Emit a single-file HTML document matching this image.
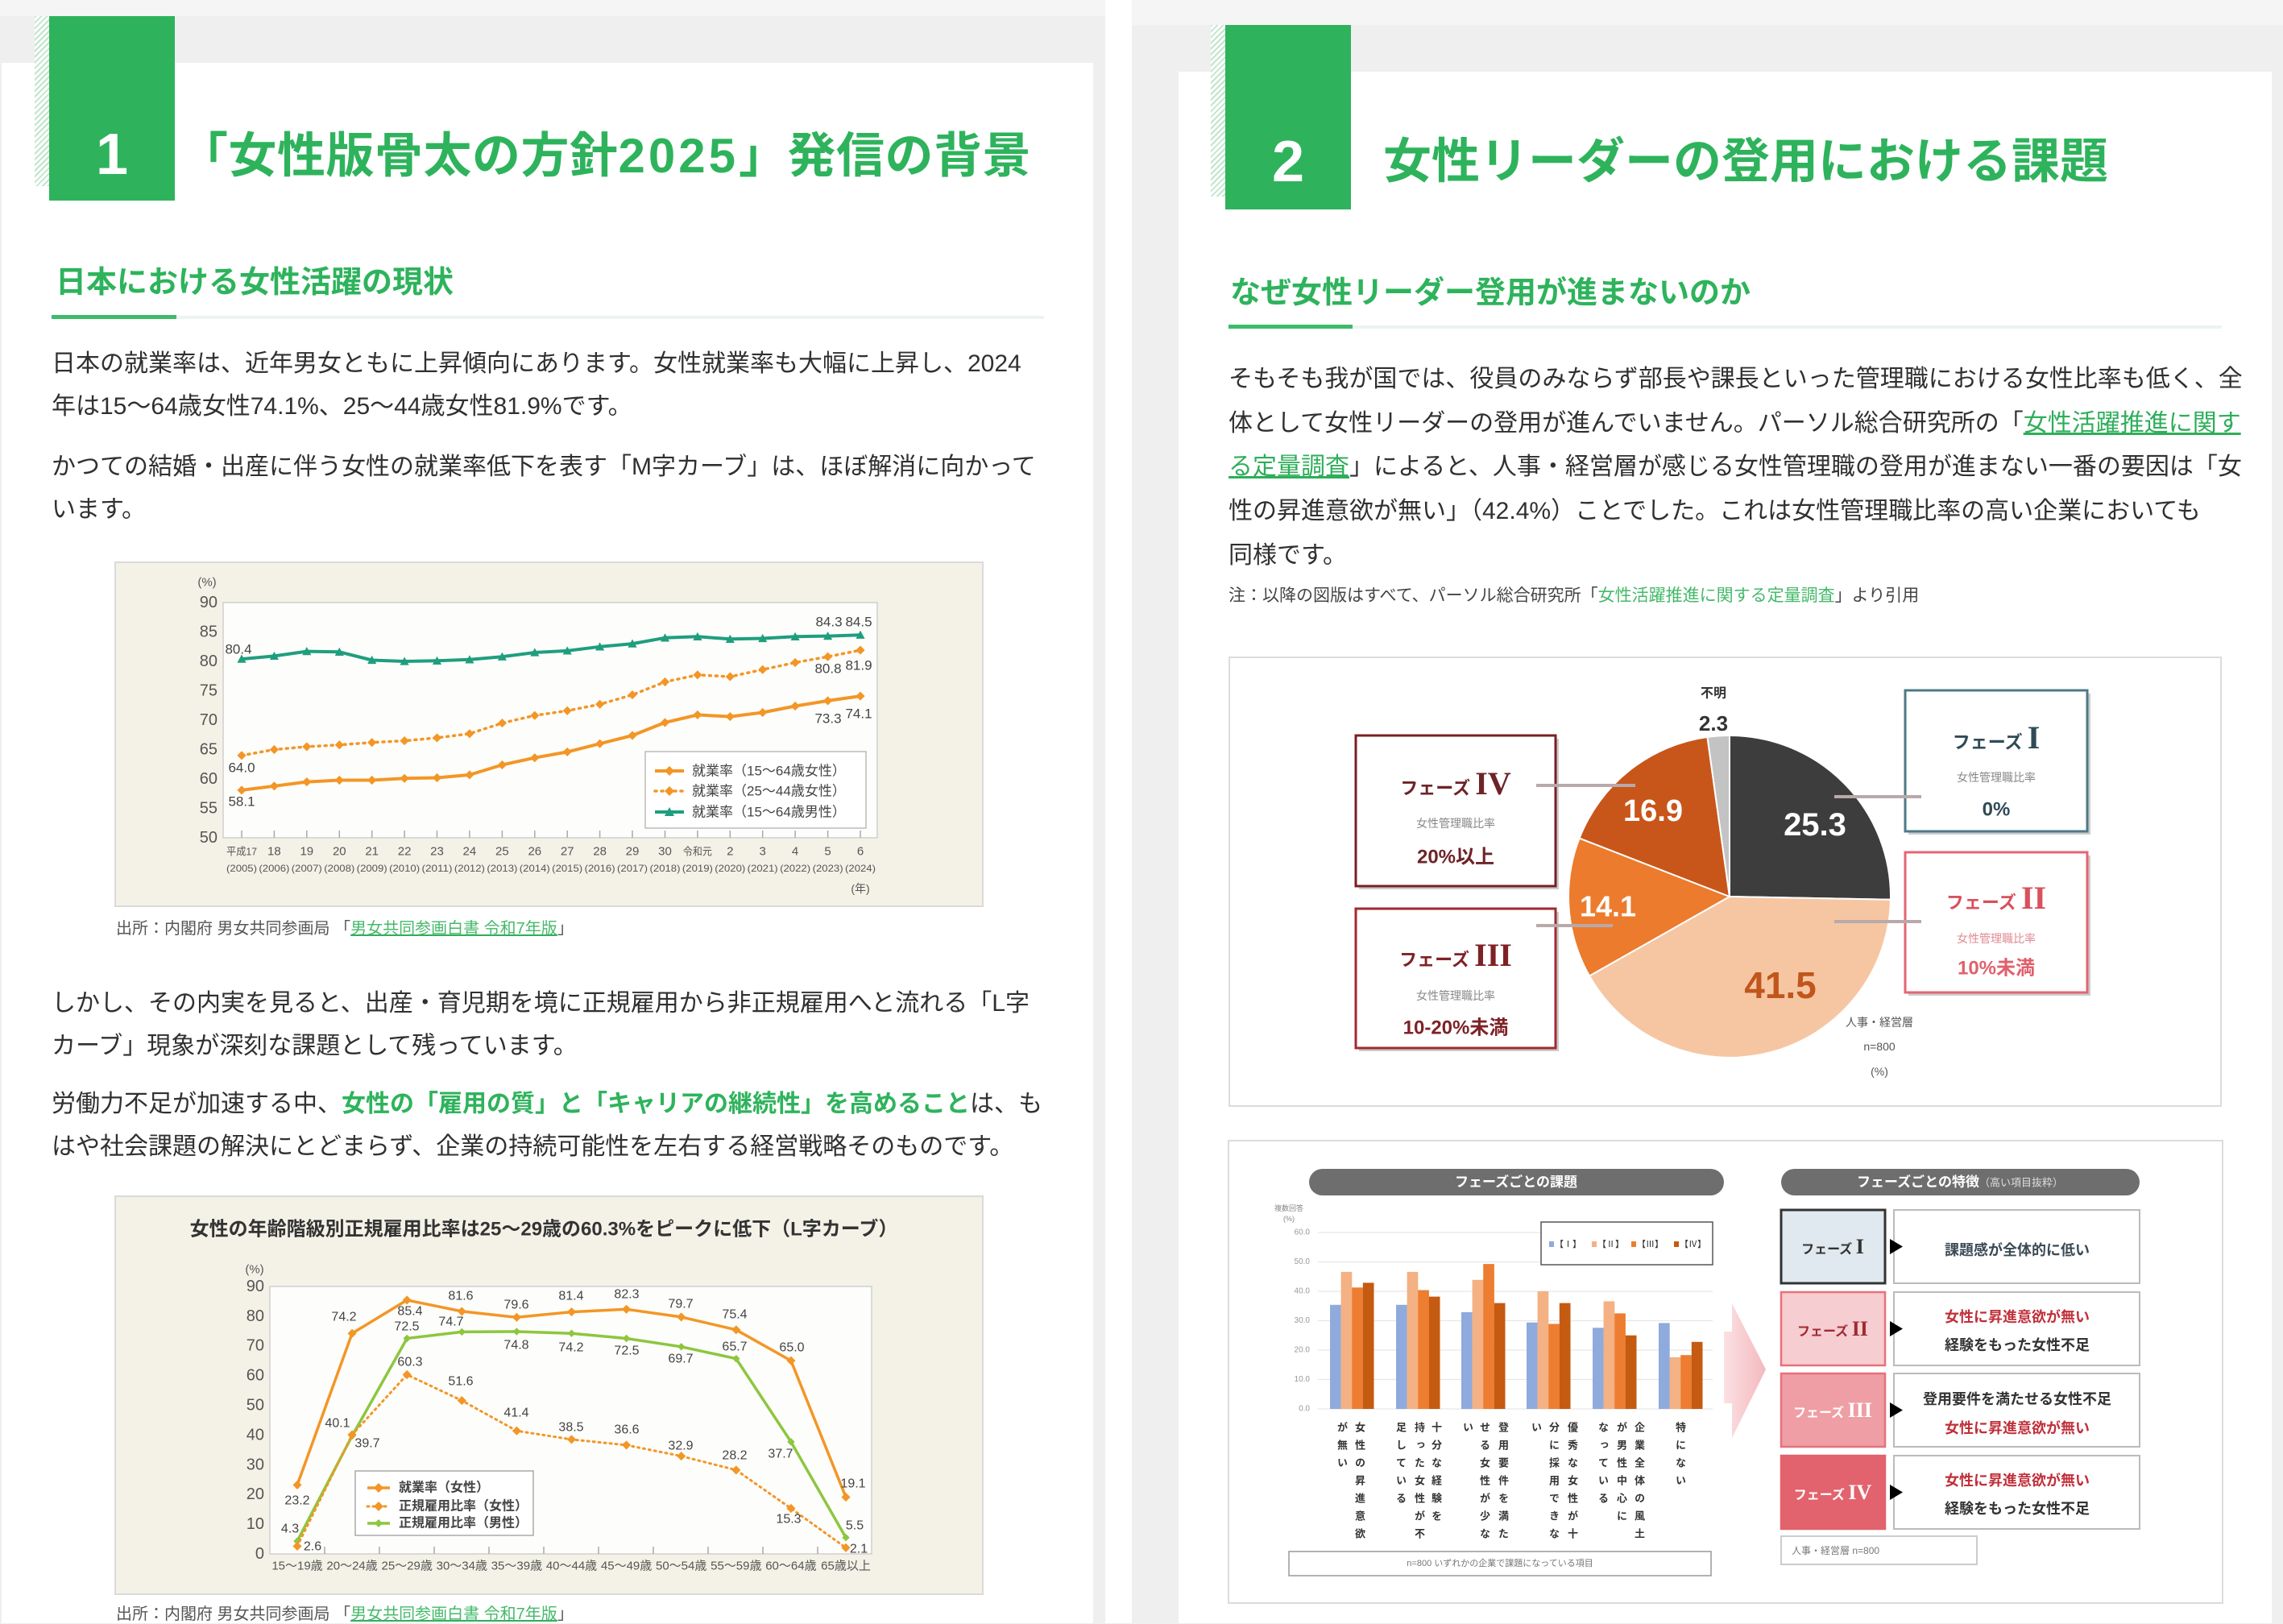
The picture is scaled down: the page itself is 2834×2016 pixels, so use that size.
<!DOCTYPE html>
<html lang="ja"><head><meta charset="utf-8">
<style>
*{margin:0;padding:0;box-sizing:border-box}
body{width:2834px;height:2015px;overflow:hidden;background:#efefef;position:relative;font-family:"Liberation Sans","Noto Sans CJK JP",sans-serif;color:#303030}
.a{position:absolute}
.p{position:absolute;font-size:30px;line-height:53px;white-space:nowrap;color:#303030}
.g{color:#2eb35c}
.gl{color:#2eae5a;text-decoration:underline;text-decoration-color:#2eae5a}
.hatch{background:repeating-linear-gradient(135deg,#bfe5cb 0 2px,#ffffff 2px 5px)}
.vt{position:absolute;writing-mode:vertical-rl;font-size:13px;line-height:22px;letter-spacing:9px;font-weight:bold;color:#333;white-space:nowrap;width:22px;top:1765px}
svg text{font-family:"Liberation Sans","Noto Sans CJK JP",sans-serif}
</style></head><body>
<!-- backgrounds -->
<div class="a" style="left:0;top:0;width:1372px;height:20px;background:#f5f5f5"></div>
<div class="a" style="left:1405px;top:0;width:1429px;height:31px;background:#f5f5f5"></div>
<div class="a" style="left:1372px;top:0;width:33px;height:2015px;background:#fff"></div>
<div class="a" style="left:2px;top:78px;width:1355px;height:1937px;background:#fff"></div>
<div class="a" style="left:1463px;top:89px;width:1357px;height:1926px;background:#fff"></div>

<!-- left header -->
<div class="a hatch" style="left:43px;top:20px;width:18px;height:211px"></div>
<div class="a" style="left:61px;top:20px;width:156px;height:229px;background:#2eb35c"></div>
<div class="a" style="left:61px;top:156px;width:156px;text-align:center;font-size:72px;line-height:72px;font-weight:bold;color:#fff">1</div>
<div class="a" style="left:223px;top:164px;font-size:60px;line-height:60px;font-weight:bold;color:#2eb35c;white-space:nowrap;letter-spacing:0.5px">「女性版骨太の方針<span style="letter-spacing:4px">2025</span>」発信の背景</div>
<div class="a" style="left:69px;top:332px;font-size:38px;line-height:38px;font-weight:bold;color:#2eb35c;white-space:nowrap">日本における女性活躍の現状</div>
<div class="a" style="left:64px;top:391px;width:155px;height:5px;background:#3dbb6a"></div>
<div class="a" style="left:219px;top:392px;width:1077px;height:4px;background:#edf4f0"></div>

<div class="p" style="left:64px;top:425px">日本の就業率は、近年男女ともに上昇傾向にあります。女性就業率も大幅に上昇し、2024<br>年は15～64歳女性74.1%、25～44歳女性81.9%です。</div>
<div class="p" style="left:64px;top:553px">かつての結婚・出産に伴う女性の就業率低下を表す「M字カーブ」は、ほぼ解消に向かって<br>います。</div>
<div class="a" style="left:144px;top:1141px;font-size:20px;line-height:24px;white-space:nowrap;color:#555">出所：内閣府 男女共同参画局 「<span class="gl" style="color:#45b96a">男女共同参画白書 令和7年版</span>」</div>
<div class="p" style="left:64px;top:1219px">しかし、その内実を見ると、出産・育児期を境に正規雇用から非正規雇用へと流れる「L字<br>カーブ」現象が深刻な課題として残っています。</div>
<div class="p" style="left:64px;top:1344px">労働力不足が加速する中、<b class="g">女性の「雇用の質」と「キャリアの継続性」を高めること</b>は、も<br>はや社会課題の解決にとどまらず、企業の持続可能性を左右する経営戦略そのものです。</div>
<div class="a" style="left:144px;top:1992px;font-size:20px;line-height:24px;white-space:nowrap;color:#555">出所：内閣府 男女共同参画局 「<span class="gl" style="color:#45b96a">男女共同参画白書 令和7年版</span>」</div>

<!-- right header -->
<div class="a hatch" style="left:1503px;top:31px;width:18px;height:213px"></div>
<div class="a" style="left:1521px;top:31px;width:156px;height:229px;background:#2eb35c"></div>
<div class="a" style="left:1521px;top:165px;width:156px;text-align:center;font-size:72px;line-height:72px;font-weight:bold;color:#fff">2</div>
<div class="a" style="left:1717px;top:171px;font-size:60px;line-height:60px;font-weight:bold;color:#2eb35c;white-space:nowrap">女性リーダーの登用における課題</div>
<div class="a" style="left:1527px;top:345px;font-size:38px;line-height:38px;font-weight:bold;color:#2eb35c;white-space:nowrap">なぜ女性リーダー登用が進まないのか</div>
<div class="a" style="left:1525px;top:403px;width:154px;height:5px;background:#3dbb6a"></div>
<div class="a" style="left:1679px;top:404px;width:1079px;height:4px;background:#edf4f0"></div>
<div class="p" style="left:1525px;top:444px;line-height:54.7px">そもそも我が国では、役員のみならず部長や課長といった管理職における女性比率も低く、全<br>体として女性リーダーの登用が進んでいません。パーソル総合研究所の「<span class="gl">女性活躍推進に関す</span><br><span class="gl">る定量調査</span>」によると、人事・経営層が感じる女性管理職の登用が進まない一番の要因は「女<br>性の昇進意欲が無い」（42.4%）ことでした。これは女性管理職比率の高い企業においても<br>同様です。</div>
<div class="a" style="left:1525px;top:728px;font-size:21px;line-height:24px;white-space:nowrap;color:#444">注：以降の図版はすべて、パーソル総合研究所「<span style="color:#45b96a">女性活躍推進に関する定量調査</span>」より引用</div>

<svg class="a" style="left:0;top:0" width="2834" height="2015" viewBox="0 0 2834 2015">
<defs>
<marker id="dO" viewBox="-7 -7 14 14" markerWidth="13" markerHeight="13" markerUnits="userSpaceOnUse"><path d="M0,-6L6,0L0,6L-6,0Z" fill="#f39626"/></marker>
<marker id="tG" viewBox="-7 -7 14 14" markerWidth="13" markerHeight="13" markerUnits="userSpaceOnUse"><path d="M0,-6L6,5L-6,5Z" fill="#1f9e7e"/></marker>
<marker id="dL" viewBox="-7 -7 14 14" markerWidth="11" markerHeight="11" markerUnits="userSpaceOnUse"><path d="M0,-6L6,0L0,6L-6,0Z" fill="#8dc63f"/></marker>
</defs>

<!-- ===== Chart 1 ===== -->
<rect x="143" y="698" width="1077" height="427" fill="#f4f2e7" stroke="#dadada" stroke-width="2"/>
<rect x="277" y="748" width="812" height="292" fill="#fdfdfb" stroke="#cfcfcf" stroke-width="1.5"/>
<g font-size="20" fill="#555" text-anchor="end" dominant-baseline="central">
<text x="270" y="748">90</text><text x="270" y="784.5">85</text><text x="270" y="821">80</text><text x="270" y="857.5">75</text><text x="270" y="894">70</text><text x="270" y="930.5">65</text><text x="270" y="967">60</text><text x="270" y="1003.5">55</text><text x="270" y="1040">50</text>
</g>
<text x="257" y="723" font-size="15" fill="#555" text-anchor="middle" dominant-baseline="central">(%)</text>
<g stroke="#aaa" stroke-width="1.5">
<path d="M300,1031V1040M340.4,1031V1040M380.8,1031V1040M421.3,1031V1040M461.7,1031V1040M502.1,1031V1040M542.5,1031V1040M582.9,1031V1040M623.4,1031V1040M663.8,1031V1040M704.2,1031V1040M744.6,1031V1040M785,1031V1040M825.5,1031V1040M865.9,1031V1040M906.3,1031V1040M946.7,1031V1040M987.1,1031V1040M1027.6,1031V1040M1068,1031V1040"/>
</g>
<g font-size="15" fill="#555" text-anchor="middle" dominant-baseline="central">
<text x="300" y="1057" font-size="13" textLength="38" lengthAdjust="spacingAndGlyphs">平成17</text><text x="340.4" y="1057">18</text><text x="380.8" y="1057">19</text><text x="421.3" y="1057">20</text><text x="461.7" y="1057">21</text><text x="502.1" y="1057">22</text><text x="542.5" y="1057">23</text><text x="582.9" y="1057">24</text><text x="623.4" y="1057">25</text><text x="663.8" y="1057">26</text><text x="704.2" y="1057">27</text><text x="744.6" y="1057">28</text><text x="785" y="1057">29</text><text x="825.5" y="1057">30</text><text x="865.9" y="1057" font-size="13" textLength="36" lengthAdjust="spacingAndGlyphs">令和元</text><text x="906.3" y="1057">2</text><text x="946.7" y="1057">3</text><text x="987.1" y="1057">4</text><text x="1027.6" y="1057">5</text><text x="1068" y="1057">6</text>
</g>
<g font-size="12" fill="#555" text-anchor="middle" dominant-baseline="central">
<text x="300" y="1078" textLength="38" lengthAdjust="spacingAndGlyphs">(2005)</text><text x="340.4" y="1078" textLength="38" lengthAdjust="spacingAndGlyphs">(2006)</text><text x="380.8" y="1078" textLength="38" lengthAdjust="spacingAndGlyphs">(2007)</text><text x="421.3" y="1078" textLength="38" lengthAdjust="spacingAndGlyphs">(2008)</text><text x="461.7" y="1078" textLength="38" lengthAdjust="spacingAndGlyphs">(2009)</text><text x="502.1" y="1078" textLength="38" lengthAdjust="spacingAndGlyphs">(2010)</text><text x="542.5" y="1078" textLength="38" lengthAdjust="spacingAndGlyphs">(2011)</text><text x="582.9" y="1078" textLength="38" lengthAdjust="spacingAndGlyphs">(2012)</text><text x="623.4" y="1078" textLength="38" lengthAdjust="spacingAndGlyphs">(2013)</text><text x="663.8" y="1078" textLength="38" lengthAdjust="spacingAndGlyphs">(2014)</text><text x="704.2" y="1078" textLength="38" lengthAdjust="spacingAndGlyphs">(2015)</text><text x="744.6" y="1078" textLength="38" lengthAdjust="spacingAndGlyphs">(2016)</text><text x="785" y="1078" textLength="38" lengthAdjust="spacingAndGlyphs">(2017)</text><text x="825.5" y="1078" textLength="38" lengthAdjust="spacingAndGlyphs">(2018)</text><text x="865.9" y="1078" textLength="38" lengthAdjust="spacingAndGlyphs">(2019)</text><text x="906.3" y="1078" textLength="38" lengthAdjust="spacingAndGlyphs">(2020)</text><text x="946.7" y="1078" textLength="38" lengthAdjust="spacingAndGlyphs">(2021)</text><text x="987.1" y="1078" textLength="38" lengthAdjust="spacingAndGlyphs">(2022)</text><text x="1027.6" y="1078" textLength="38" lengthAdjust="spacingAndGlyphs">(2023)</text><text x="1068" y="1078" textLength="38" lengthAdjust="spacingAndGlyphs">(2024)</text>
<text x="1068" y="1103" font-size="14">(年)</text>
</g>
<polyline fill="none" stroke="#1f9e7e" stroke-width="4" stroke-linejoin="round" marker-start="url(#tG)" marker-mid="url(#tG)" marker-end="url(#tG)" points="300,818.1 340.4,814.4 380.8,808.6 421.3,809.3 461.7,819.5 502.1,821 542.5,820.3 582.9,818.8 623.4,815.2 663.8,810 704.2,807.9 744.6,802.8 785,799.1 825.5,791.8 865.9,790.3 906.3,793.3 946.7,792.5 987.1,790.3 1027.6,789.6 1068,788.2"/>
<polyline fill="none" stroke="#f39626" stroke-width="4" stroke-linejoin="round" marker-start="url(#dO)" marker-mid="url(#dO)" marker-end="url(#dO)" points="300,980.9 340.4,975.8 380.8,970.6 421.3,968.5 461.7,968.5 502.1,966.3 542.5,965.5 582.9,961.9 623.4,949.5 663.8,940.7 704.2,933.4 744.6,923.2 785,913 825.5,896.9 865.9,887.4 906.3,889.6 946.7,884.5 987.1,876.5 1027.6,869.9 1068,864.1"/>
<polyline fill="none" stroke="#f39626" stroke-width="3.5" stroke-dasharray="2 6" stroke-linecap="round" marker-start="url(#dO)" marker-mid="url(#dO)" marker-end="url(#dO)" points="300,937.8 340.4,930.5 380.8,926.9 421.3,924.7 461.7,921.7 502.1,919.6 542.5,915.9 582.9,910.8 623.4,897.6 663.8,888.2 704.2,882.3 744.6,874.3 785,862.6 825.5,846.5 865.9,837.8 906.3,840 946.7,831.2 987.1,822.5 1027.6,815.2 1068,807.1"/>
<g font-size="17" fill="#444" text-anchor="middle" dominant-baseline="central">
<text x="296" y="806">80.4</text><text x="300" y="953">64.0</text><text x="300" y="995">58.1</text>
<text x="1029" y="772">84.3</text><text x="1066" y="772">84.5</text>
<text x="1028" y="830">80.8</text><text x="1066" y="826">81.9</text>
<text x="1028" y="892">73.3</text><text x="1066" y="886">74.1</text>
</g>
<rect x="801" y="933" width="274" height="95" fill="#fff" stroke="#bbb" stroke-width="1.5"/>
<line x1="813" y1="957" x2="849" y2="957" stroke="#f39626" stroke-width="4"/><path d="M831,951L837,957L831,963L825,957Z" fill="#f39626"/>
<line x1="813" y1="982" x2="849" y2="982" stroke="#f39626" stroke-width="3.5" stroke-dasharray="2 6" stroke-linecap="round"/><path d="M831,976L837,982L831,988L825,982Z" fill="#f39626"/>
<line x1="813" y1="1008" x2="849" y2="1008" stroke="#1f9e7e" stroke-width="4"/><path d="M831,1002L837,1013L825,1013Z" fill="#1f9e7e"/>
<g font-size="17" fill="#444" dominant-baseline="central">
<text x="859" y="957">就業率（15～64歳女性）</text><text x="859" y="982">就業率（25～44歳女性）</text><text x="859" y="1008">就業率（15～64歳男性）</text>
</g>

<!-- ===== Chart 2 (L-curve) ===== -->
<rect x="143" y="1485" width="1077" height="494" fill="#f4f2e7" stroke="#dadada" stroke-width="2"/>
<text x="675" y="1526" font-size="24" font-weight="bold" fill="#333" text-anchor="middle" dominant-baseline="central">女性の年齢階級別正規雇用比率は25～29歳の60.3%をピークに低下（L字カーブ）</text>
<rect x="335" y="1597" width="747" height="332" fill="#fdfdfb" stroke="#cfcfcf" stroke-width="1.5"/>
<g font-size="20" fill="#555" text-anchor="end" dominant-baseline="central">
<text x="328" y="1929">0</text><text x="328" y="1892.1">10</text><text x="328" y="1855.2">20</text><text x="328" y="1818.3">30</text><text x="328" y="1781.4">40</text><text x="328" y="1744.5">50</text><text x="328" y="1707.6">60</text><text x="328" y="1670.7">70</text><text x="328" y="1633.8">80</text><text x="328" y="1596.9">90</text>
</g>
<text x="316" y="1576" font-size="15" fill="#555" text-anchor="middle" dominant-baseline="central">(%)</text>
<path d="M403,1920V1929M471,1920V1929M539,1920V1929M607,1920V1929M675,1920V1929M743,1920V1929M811,1920V1929M879,1920V1929M947,1920V1929M1015,1920V1929" stroke="#aaa" stroke-width="1.5"/>
<g font-size="15" fill="#555" text-anchor="middle" dominant-baseline="central">
<text x="369" y="1944">15～19歳</text><text x="437.1" y="1944">20～24歳</text><text x="505.2" y="1944">25～29歳</text><text x="573.3" y="1944">30～34歳</text><text x="641.4" y="1944">35～39歳</text><text x="709.5" y="1944">40～44歳</text><text x="777.6" y="1944">45～49歳</text><text x="845.7" y="1944">50～54歳</text><text x="913.8" y="1944">55～59歳</text><text x="981.9" y="1944">60～64歳</text><text x="1050" y="1944">65歳以上</text>
</g>
<polyline fill="none" stroke="#8dc63f" stroke-width="3.5" stroke-linejoin="round" marker-start="url(#dL)" marker-mid="url(#dL)" marker-end="url(#dL)" points="369,1913.1 437.1,1782.5 505.2,1661.5 573.3,1653.4 641.4,1653 709.5,1655.2 777.6,1661.5 845.7,1671.8 913.8,1686.6 981.9,1789.9 1050,1908.7"/>
<polyline fill="none" stroke="#f39626" stroke-width="3.5" stroke-linejoin="round" marker-start="url(#dO)" marker-mid="url(#dO)" marker-end="url(#dO)" points="369,1843.4 437.1,1655.2 505.2,1613.9 573.3,1627.9 641.4,1635.3 709.5,1628.6 777.6,1625.3 845.7,1634.9 913.8,1650.8 981.9,1689.1 1050,1858.5"/>
<polyline fill="none" stroke="#f39626" stroke-width="3" stroke-dasharray="2 5" stroke-linecap="round" marker-start="url(#dO)" marker-mid="url(#dO)" marker-end="url(#dO)" points="369,1919.4 437.1,1781 505.2,1706.5 573.3,1738.6 641.4,1776.2 709.5,1786.9 777.6,1793.9 845.7,1807.6 913.8,1824.9 981.9,1872.5 1050,1921.3"/>
<g font-size="16" fill="#444" text-anchor="middle" dominant-baseline="central">
<text x="427" y="1635">74.2</text><text x="509" y="1628">85.4</text><text x="572" y="1609">81.6</text><text x="641" y="1620">79.6</text><text x="709" y="1609">81.4</text><text x="778" y="1607">82.3</text><text x="845" y="1619">79.7</text><text x="912" y="1632">75.4</text><text x="983" y="1673">65.0</text><text x="1059" y="1842">19.1</text><text x="369" y="1863">23.2</text>
<text x="505" y="1647">72.5</text><text x="560" y="1641">74.7</text><text x="641" y="1670">74.8</text><text x="709" y="1673">74.2</text><text x="778" y="1677">72.5</text><text x="845" y="1687">69.7</text><text x="912" y="1672">65.7</text><text x="969" y="1805">37.7</text><text x="456" y="1792">39.7</text><text x="360" y="1898">4.3</text><text x="1061" y="1894">5.5</text>
<text x="509" y="1691">60.3</text><text x="572" y="1715">51.6</text><text x="641" y="1754">41.4</text><text x="709" y="1772">38.5</text><text x="778" y="1775">36.6</text><text x="845" y="1795">32.9</text><text x="912" y="1807">28.2</text><text x="979" y="1886">15.3</text><text x="419" y="1767">40.1</text><text x="388" y="1920">2.6</text><text x="1066" y="1923">2.1</text>
</g>
<rect x="441" y="1826" width="221" height="80" fill="#fff" stroke="#aaa" stroke-width="1.5"/>
<line x1="456" y1="1847" x2="484" y2="1847" stroke="#f39626" stroke-width="3.5"/><path d="M470,1841L476,1847L470,1853L464,1847Z" fill="#f39626"/>
<line x1="456" y1="1870" x2="484" y2="1870" stroke="#f39626" stroke-width="3" stroke-dasharray="2 5" stroke-linecap="round"/><path d="M470,1864L476,1870L470,1876L464,1870Z" fill="#f39626"/>
<line x1="456" y1="1891" x2="484" y2="1891" stroke="#8dc63f" stroke-width="3.5"/><path d="M470,1886L475,1891L470,1896L465,1891Z" fill="#8dc63f"/>
<g font-size="16" fill="#444" font-weight="bold" dominant-baseline="central">
<text x="495" y="1847">就業率（女性）</text><text x="495" y="1870">正規雇用比率（女性）</text><text x="495" y="1891">正規雇用比率（男性）</text>
</g>

<!-- ===== Pie chart ===== -->
<rect x="1526" y="816" width="1231" height="557" fill="#fff" stroke="#dcdcdc" stroke-width="2"/>
<g stroke="#fff" stroke-width="2">
<path d="M2147,1113L2147,913A200,200 0 0 1 2346.96,1116.77Z" fill="#3d3d3d"/>
<path d="M2147,1113L2346.96,1116.77A200,200 0 0 1 1973,1211.5Z" fill="#f6c6a3"/>
<path d="M2147,1113L1973,1211.5A200,200 0 0 1 1960.59,1040.55Z" fill="#ec7b2e"/>
<path d="M2147,1113L1960.59,1040.55A200,200 0 0 1 2119.44,914.91Z" fill="#c8561a"/>
<path d="M2147,1113L2119.44,914.91A200,200 0 0 1 2147,913Z" fill="#c3c3c3"/>
</g>
<g font-weight="bold" text-anchor="middle" dominant-baseline="central">
<text x="2253" y="1024" font-size="40" fill="#fff">25.3</text>
<text x="2052" y="1007" font-size="38" fill="#fff">16.9</text>
<text x="1996" y="1125" font-size="36" fill="#fff">14.1</text>
<text x="2210" y="1223" font-size="46" fill="#c0561b">41.5</text>
<text x="2127" y="861" font-size="16" fill="#333">不明</text>
<text x="2127" y="898" font-size="26" fill="#333">2.3</text>
</g>
<g font-size="14" fill="#555" text-anchor="middle" dominant-baseline="central">
<text x="2333" y="1269">人事・経営層</text><text x="2333" y="1299">n=800</text><text x="2333" y="1330">(%)</text>
</g>
<!-- phase boxes -->
<g>
<rect x="1687" y="917" width="248" height="187" fill="#ccc"/>
<rect x="1683" y="913" width="248" height="187" fill="#fff" stroke="#7a1f23" stroke-width="3"/>
<rect x="1687" y="1132" width="248" height="173" fill="#ccc"/>
<rect x="1683" y="1128" width="248" height="173" fill="#fff" stroke="#a02a2f" stroke-width="3"/>
<rect x="2369" y="861" width="226" height="175" fill="#ccc"/>
<rect x="2365" y="857" width="226" height="175" fill="#fff" stroke="#4d7a86" stroke-width="3"/>
<rect x="2369" y="1062" width="226" height="174" fill="#ccc"/>
<rect x="2365" y="1058" width="226" height="174" fill="#fff" stroke="#e46672" stroke-width="3"/>
</g>
<g stroke="#b9a9aa" stroke-width="4">
<line x1="1907" y1="975" x2="2030" y2="975"/><line x1="1907" y1="1149" x2="2002" y2="1149"/>
<line x1="2277" y1="989" x2="2385" y2="989"/><line x1="2277" y1="1144" x2="2385" y2="1144"/>
</g>
<g text-anchor="middle" font-weight="bold">
<text x="1807" y="986" font-size="22" fill="#6d2428">フェーズ <tspan font-family="Liberation Serif" font-size="40">IV</tspan></text>
<text x="1807" y="1022" font-size="14" font-weight="normal" fill="#888" dominant-baseline="central">女性管理職比率</text>
<text x="1807" y="1064" font-size="24" fill="#6d2428" dominant-baseline="central">20%以上</text>
<text x="1807" y="1199" font-size="22" fill="#7d2227">フェーズ <tspan font-family="Liberation Serif" font-size="40">III</tspan></text>
<text x="1807" y="1236" font-size="14" font-weight="normal" fill="#888" dominant-baseline="central">女性管理職比率</text>
<text x="1807" y="1276" font-size="24" fill="#7d2227" dominant-baseline="central">10-20%未満</text>
<text x="2478" y="929" font-size="22" fill="#2f4b57">フェーズ <tspan font-family="Liberation Serif" font-size="40">I</tspan></text>
<text x="2478" y="965" font-size="14" font-weight="normal" fill="#888" dominant-baseline="central">女性管理職比率</text>
<text x="2478" y="1005" font-size="24" fill="#2f4b57" dominant-baseline="central">0%</text>
<text x="2478" y="1128" font-size="22" fill="#d9505e">フェーズ <tspan font-family="Liberation Serif" font-size="40">II</tspan></text>
<text x="2478" y="1165" font-size="14" font-weight="normal" fill="#e08a92" dominant-baseline="central">女性管理職比率</text>
<text x="2478" y="1202" font-size="24" fill="#e0606c" dominant-baseline="central">10%未満</text>
</g>

<!-- ===== Bar chart panel ===== -->
<rect x="1525" y="1416" width="1234" height="574" fill="#fff" stroke="#dcdcdc" stroke-width="2"/>
<rect x="1625" y="1451" width="515" height="33" rx="16.5" fill="#6e6e6e"/>
<text x="1882" y="1467.5" font-size="17" font-weight="bold" fill="#fff" text-anchor="middle" dominant-baseline="central">フェーズごとの課題</text>
<text x="1600" y="1500" font-size="9" fill="#888" text-anchor="middle" dominant-baseline="central">複数回答</text>
<text x="1600" y="1513" font-size="9" fill="#888" text-anchor="middle" dominant-baseline="central">(%)</text>
<g stroke="#e6e6e6" stroke-width="1.2">
<path d="M1636,1530H2126M1636,1566.5H2126M1636,1603H2126M1636,1639.5H2126M1636,1676H2126M1636,1712.5H2126M1636,1749H2126"/>
</g>
<g font-size="10" fill="#999" text-anchor="end" dominant-baseline="central">
<text x="1626" y="1530">60.0</text><text x="1626" y="1566.5">50.0</text><text x="1626" y="1603">40.0</text><text x="1626" y="1639.5">30.0</text><text x="1626" y="1676">20.0</text><text x="1626" y="1712.5">10.0</text><text x="1626" y="1749">0.0</text>
</g>
<g>
<rect x="1651" y="1619.8" width="13.7" height="129.2" fill="#8faadc"/><rect x="1664.6" y="1578.9" width="13.7" height="170.1" fill="#f4b183"/><rect x="1678.2" y="1598.3" width="13.7" height="150.7" fill="#ed7d31"/><rect x="1691.8" y="1592.4" width="13.7" height="156.6" fill="#c55a11"/>
<rect x="1733" y="1619.8" width="13.7" height="129.2" fill="#8faadc"/><rect x="1746.6" y="1578.9" width="13.7" height="170.1" fill="#f4b183"/><rect x="1760.2" y="1601.5" width="13.7" height="147.5" fill="#ed7d31"/><rect x="1773.8" y="1609.6" width="13.7" height="139.4" fill="#c55a11"/>
<rect x="1814" y="1628.9" width="13.7" height="120.1" fill="#8faadc"/><rect x="1827.6" y="1588.8" width="13.7" height="160.2" fill="#f4b183"/><rect x="1841.2" y="1569.1" width="13.7" height="179.9" fill="#ed7d31"/><rect x="1854.8" y="1617.6" width="13.7" height="131.4" fill="#c55a11"/>
<rect x="1895" y="1641.7" width="13.7" height="107.3" fill="#8faadc"/><rect x="1908.6" y="1603" width="13.7" height="146" fill="#f4b183"/><rect x="1922.2" y="1643.5" width="13.7" height="105.5" fill="#ed7d31"/><rect x="1935.8" y="1617.6" width="13.7" height="131.4" fill="#c55a11"/>
<rect x="1977" y="1648.3" width="13.7" height="100.7" fill="#8faadc"/><rect x="1990.6" y="1615.4" width="13.7" height="133.6" fill="#f4b183"/><rect x="2004.2" y="1630.4" width="13.7" height="118.6" fill="#ed7d31"/><rect x="2017.8" y="1657.7" width="13.7" height="91.3" fill="#c55a11"/>
<rect x="2059" y="1642.4" width="13.7" height="106.6" fill="#8faadc"/><rect x="2072.6" y="1684.8" width="13.7" height="64.2" fill="#f4b183"/><rect x="2086.2" y="1682.2" width="13.7" height="66.8" fill="#ed7d31"/><rect x="2099.8" y="1665.8" width="13.7" height="83.2" fill="#c55a11"/>
</g>
<rect x="1913" y="1517" width="213" height="53" fill="#fff" stroke="#555" stroke-width="1.5"/>
<rect x="1923" y="1541" width="6" height="7" fill="#8faadc"/><rect x="1976" y="1541" width="6" height="7" fill="#f4b183"/><rect x="2025" y="1541" width="6" height="7" fill="#ed7d31"/><rect x="2078" y="1541" width="6" height="7" fill="#c55a11"/>
<g font-size="11" fill="#333" dominant-baseline="central">
<text x="1930" y="1545">【Ⅰ】</text><text x="1983" y="1545">【Ⅱ】</text><text x="2032" y="1545">【Ⅲ】</text><text x="2085" y="1545">【Ⅳ】</text>
</g>
<rect x="1600" y="1926" width="524" height="30" fill="#fff" stroke="#999" stroke-width="1.5"/>
<text x="1862" y="1941" font-size="11" fill="#777" text-anchor="middle" dominant-baseline="central">n=800 いずれかの企業で課題になっている項目</text>

<!-- pink arrow -->
<defs><linearGradient id="pk" x1="0" x2="1" y1="0" y2="0"><stop offset="0" stop-color="#fbe0e2"/><stop offset="1" stop-color="#f3b9be"/></linearGradient></defs>
<polygon points="2140,1653 2150,1653 2150,1618 2192,1700 2150,1785 2150,1742 2140,1742" fill="url(#pk)"/>

<!-- right: phase features -->
<rect x="2211" y="1451" width="445" height="33" rx="16.5" fill="#6e6e6e"/>
<text x="2433" y="1467.5" font-size="17" font-weight="bold" fill="#fff" text-anchor="middle" dominant-baseline="central">フェーズごとの特徴<tspan font-size="13" font-weight="normal" fill="#ddd">（高い項目抜粋）</tspan></text>
<rect x="2211" y="1502" width="129" height="91" fill="#dfe9ef" stroke="#333" stroke-width="3"/>
<rect x="2211" y="1604" width="129" height="91" fill="#f6cdd0" stroke="#e8707a" stroke-width="2.5"/>
<rect x="2211" y="1705" width="129" height="91" fill="#ee9ea4" stroke="#e8707a" stroke-width="2.5"/>
<rect x="2211" y="1807" width="129" height="91" fill="#e2636d" stroke="#e2636d" stroke-width="2.5"/>
<g font-weight="bold" text-anchor="middle">
<text x="2275" y="1556" font-size="16" fill="#333">フェーズ <tspan font-family="Liberation Serif" font-size="26">I</tspan></text>
<text x="2275" y="1658" font-size="16" fill="#a02a35">フェーズ <tspan font-family="Liberation Serif" font-size="26">II</tspan></text>
<text x="2275" y="1759" font-size="16" fill="#fff">フェーズ <tspan font-family="Liberation Serif" font-size="26">III</tspan></text>
<text x="2275" y="1861" font-size="16" fill="#fff">フェーズ <tspan font-family="Liberation Serif" font-size="26">IV</tspan></text>
</g>
<g fill="#fff" stroke="#bbb" stroke-width="2">
<rect x="2351" y="1502" width="305" height="91"/><rect x="2351" y="1604" width="305" height="91"/><rect x="2351" y="1705" width="305" height="91"/><rect x="2351" y="1807" width="305" height="91"/>
</g>
<g fill="#000">
<path d="M2346,1538L2362,1547.5L2346,1557Z"/><path d="M2346,1640L2362,1649.5L2346,1659Z"/><path d="M2346,1741L2362,1750.5L2346,1760Z"/><path d="M2346,1843L2362,1852.5L2346,1862Z"/>
</g>
<g font-size="18" font-weight="bold" text-anchor="middle" dominant-baseline="central">
<text x="2504" y="1552" fill="#3a4a55">課題感が全体的に低い</text>
<text x="2504" y="1635" fill="#c0303a">女性に昇進意欲が無い</text>
<text x="2504" y="1670" fill="#333">経験をもった女性不足</text>
<text x="2504" y="1737" fill="#333">登用要件を満たせる女性不足</text>
<text x="2504" y="1773" fill="#c0303a">女性に昇進意欲が無い</text>
<text x="2504" y="1838" fill="#c0303a">女性に昇進意欲が無い</text>
<text x="2504" y="1873" fill="#333">経験をもった女性不足</text>
</g>
<rect x="2211" y="1907" width="243" height="35" fill="#fff" stroke="#ccc" stroke-width="2"/>
<text x="2224" y="1925" font-size="12" fill="#777" dominant-baseline="central">人事・経営層 n=800</text>
</svg>

<!-- vertical category labels -->
<div class="vt" style="left:1676px">女性の昇進意欲</div>
<div class="vt" style="left:1654px">が無い</div>
<div class="vt" style="left:1771px">十分な経験を</div>
<div class="vt" style="left:1750px">持った女性が不</div>
<div class="vt" style="left:1727px">足している</div>
<div class="vt" style="left:1854px">登用要件を満た</div>
<div class="vt" style="left:1831px">せる女性が少な</div>
<div class="vt" style="left:1810px">い</div>
<div class="vt" style="left:1940px">優秀な女性が十</div>
<div class="vt" style="left:1917px">分に採用できな</div>
<div class="vt" style="left:1895px">い</div>
<div class="vt" style="left:2023px">企業全体の風土</div>
<div class="vt" style="left:2001px">が男性中心に</div>
<div class="vt" style="left:1978px">なっている</div>
<div class="vt" style="left:2074px">特にない</div>
</body></html>
